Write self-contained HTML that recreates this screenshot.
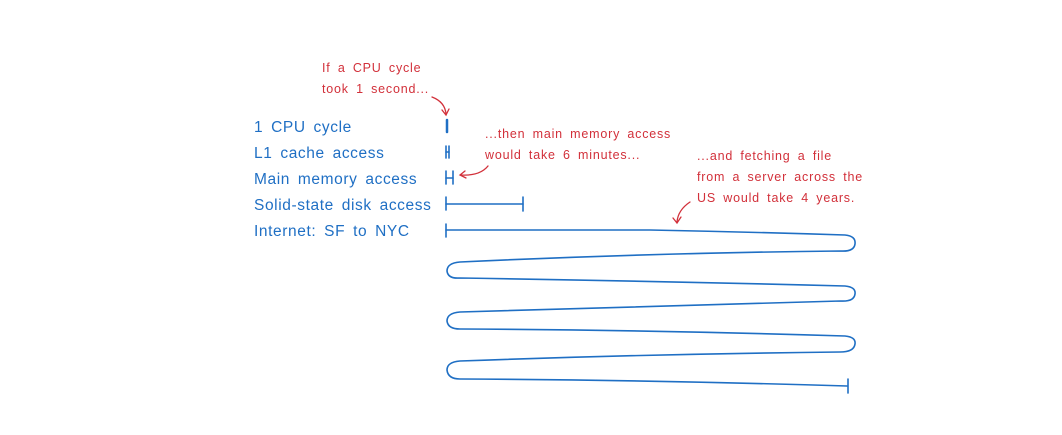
<!DOCTYPE html>
<html><head><meta charset="utf-8"><style>
body{margin:0;background:#fff;width:1062px;height:430px;overflow:hidden}
svg text{font-family:"Liberation Sans",sans-serif}
.b{fill:#1f6fc4;font-size:15.5px;letter-spacing:0.6px;word-spacing:3px}
.r{fill:#d2303a;font-size:12.5px;letter-spacing:0.8px;word-spacing:3px}
</style></head><body>
<svg width="1062" height="430" viewBox="0 0 1062 430">
<g class="b">
<text x="254" y="132">1 CPU cycle</text>
<text x="254" y="158">L1 cache access</text>
<text x="254" y="184">Main memory access</text>
<text x="254" y="210">Solid-state disk access</text>
<text x="254" y="236">Internet: SF to NYC</text>
</g>
<g class="r">
<text x="322" y="72">If a CPU cycle</text>
<text x="322" y="93">took 1 second...</text>
<text x="485" y="138">...then main memory access</text>
<text x="485" y="159">would take 6 minutes...</text>
<text x="697" y="160">...and fetching a file</text>
<text x="697" y="181">from a server across the</text>
<text x="697" y="202">US would take 4 years.</text>
</g>
<g stroke="#1f6fc4" stroke-width="1.6" fill="none" stroke-linecap="round">
<line x1="447" y1="120" x2="447" y2="132" stroke-width="2.5"/>
<line x1="446" y1="146" x2="446" y2="158"/><line x1="449" y1="146" x2="449" y2="158"/><line x1="446" y1="152" x2="449" y2="152"/>
<line x1="446" y1="171" x2="446" y2="184"/><line x1="453" y1="171" x2="453" y2="184"/><line x1="446" y1="178" x2="453" y2="178"/>
<line x1="446" y1="197" x2="446" y2="210"/><line x1="523" y1="197" x2="523" y2="211"/><line x1="446" y1="204" x2="523" y2="204"/>
<line x1="446" y1="224" x2="446" y2="237"/>
<path d="M446 230 L650 230 Q750 232 845 235 Q856 236 855 244 Q854 252 840 251 Q650 253 460 262 Q447 263 447 271 Q448 279 460 278 Q650 281 845 286 Q856 287 855 294 Q854 302 840 301 Q650 306 460 312 Q447 313 447 321 Q448 329 460 329 Q650 330 845 336 Q856 337 855 344 Q854 352 840 352 Q650 354 460 361 Q447 362 447 370 Q448 379 460 379 Q650 380 847 386"/>
<line x1="848" y1="379" x2="848" y2="393"/>
</g>
<g stroke="#d2303a" stroke-width="1.3" fill="none" stroke-linecap="round">
<path d="M432 97 Q445 102 446 114"/><path d="M442 110 L446 115 L449 109"/>
<path d="M488 166 Q480 176 461 175"/><path d="M465 171 L460 175 L466 178"/>
<path d="M690 202 Q678 210 677 222"/><path d="M673 218 L677 223 L681 217"/>
</g>
</svg>
</body></html>
